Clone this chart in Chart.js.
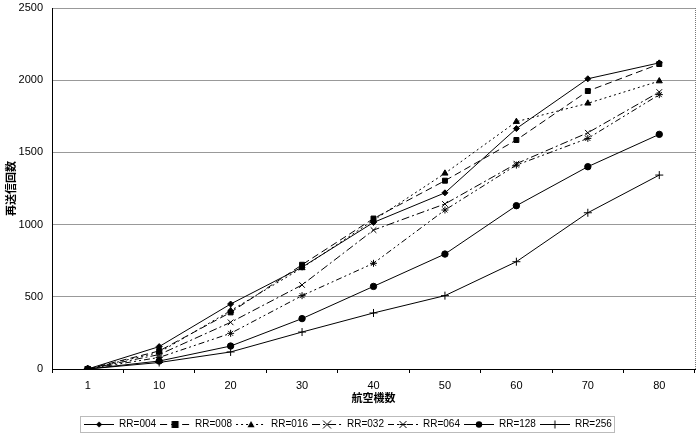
<!DOCTYPE html>
<html>
<head>
<meta charset="utf-8">
<style>
  html, body { margin: 0; padding: 0; background: #fff; }
  #wrap { width: 700px; height: 434px; }
</style>
<script src="https://cdn.jsdelivr.net/npm/chart.js@4.4.1/dist/chart.umd.min.js"></script>
</head>
<body>
<div id="wrap"><canvas id="chart"></canvas></div>
<script>
// data
const categories = ['1', '10', '20', '30', '40', '50', '60', '70', '80'];
const rr004 = [0, 155, 450, 705, 1015, 1220, 1665, 2010, 2120];
const rr008 = [0, 125, 392, 722, 1042, 1304, 1586, 1925, 2112];
const rr016 = [0, 115, 404, 700, 1030, 1355, 1713, 1840, 1994];
const rr032 = [0, 100, 323, 582, 962, 1143, 1422, 1636, 1918];
const rr064 = [0, 80, 247, 508, 732, 1101, 1412, 1597, 1900];
const rr128 = [0, 55, 159, 349, 572, 796, 1131, 1401, 1625];
const rr256 = [0, 45, 118, 256, 388, 508, 743, 1082, 1343];
const seriesNames = ['RR=004', 'RR=008', 'RR=016', 'RR=032', 'RR=064', 'RR=128', 'RR=256'];
const yTicks = [0, 500, 1000, 1500, 2000, 2500];

const seriesData = [rr004, rr008, rr016, rr032, rr064, rr128, rr256];
const looks = [
  {marker: 'rectRot', r: 3, dash: []},
  {marker: 'rect', r: 3.5, dash: [7, 4]},
  {marker: 'triangle', r: 3.5, dash: [2, 3]},
  {marker: 'crossRot', r: 4, dash: [8, 3, 2, 3]},
  {marker: 'star', r: 3.5, dash: [6, 3, 2, 3, 2, 3]},
  {marker: 'circle', r: 3.2, dash: []},
  {marker: 'cross', r: 4, dash: []}
];

const font = "'Liberation Sans', Arial, sans-serif";
const cjk = "'Noto Sans CJK JP', sans-serif";

// small marker drawer for the legend samples
function drawMarker(ctx, type, x, y, r) {
  ctx.beginPath();
  if (type === 'circle') {
    ctx.arc(x, y, r, 0, Math.PI * 2); ctx.fill();
  } else if (type === 'rect') {
    ctx.fillRect(x - r, y - r, r * 2, r * 2);
  } else if (type === 'rectRot') {
    ctx.moveTo(x, y - r); ctx.lineTo(x + r, y); ctx.lineTo(x, y + r); ctx.lineTo(x - r, y);
    ctx.closePath(); ctx.fill();
  } else if (type === 'triangle') {
    ctx.moveTo(x, y - r); ctx.lineTo(x + r, y + r * 0.8); ctx.lineTo(x - r, y + r * 0.8);
    ctx.closePath(); ctx.fill();
  } else if (type === 'cross') {
    ctx.moveTo(x - r, y); ctx.lineTo(x + r, y); ctx.moveTo(x, y - r); ctx.lineTo(x, y + r); ctx.stroke();
  } else if (type === 'crossRot') {
    ctx.moveTo(x - r, y - r); ctx.lineTo(x + r, y + r); ctx.moveTo(x + r, y - r); ctx.lineTo(x - r, y + r); ctx.stroke();
  } else if (type === 'star') {
    ctx.moveTo(x - r, y - r); ctx.lineTo(x + r, y + r); ctx.moveTo(x + r, y - r); ctx.lineTo(x - r, y + r);
    ctx.moveTo(x - r, y); ctx.lineTo(x + r, y); ctx.stroke();
  }
}

function makeSample(look) {
  const c = document.createElement('canvas');
  c.width = 30; c.height = 10;
  const g = c.getContext('2d');
  g.strokeStyle = '#000'; g.fillStyle = '#000'; g.lineWidth = 1;
  g.setLineDash(look.dash);
  g.beginPath(); g.moveTo(0, 5.5); g.lineTo(30, 5.5); g.stroke();
  g.setLineDash([]);
  drawMarker(g, look.marker, 15, 5.5, look.r);
  return c;
}
const samples = looks.map(makeSample);

const datasets = seriesNames.map((name, i) => ({
  label: name,
  data: seriesData[i],
  borderColor: '#000',
  backgroundColor: '#000',
  borderWidth: 1,
  borderDash: looks[i].dash,
  pointStyle: looks[i].marker,
  pointRadius: looks[i].r,
  pointBorderWidth: 1,
  tension: 0
}));

// dotted frame round the legend and right edge of the plot
const framePlugin = {
  id: 'frames',
  afterLayout(chart) {
    // nudge the legend down a little
    chart.legend.top += 5;
    chart.legend.bottom += 5;
  },
  afterDraw(chart) {
    const ctx = chart.ctx;
    const area = chart.chartArea;
    ctx.save();
    ctx.strokeStyle = '#777';
    ctx.lineWidth = 1;
    ctx.setLineDash([1, 1]);
    ctx.beginPath();
    ctx.moveTo(area.right + 0.5, area.top);
    ctx.lineTo(area.right + 0.5, area.bottom);
    ctx.stroke();
    const boxes = chart.legend.legendHitBoxes;
    if (boxes && boxes.length) {
      const l = Math.min(...boxes.map(b => b.left)) - 4;
      const r = Math.max(...boxes.map(b => b.left + b.width)) + 2;
      const t = Math.min(...boxes.map(b => b.top)) - 3;
      const b = Math.max(...boxes.map(b => b.top + b.height)) + 3;
      ctx.strokeRect(Math.round(l) + 0.5, Math.round(t) + 0.5, Math.round(r - l), Math.round(b - t));
    }
    ctx.restore();
  }
};

new Chart(document.getElementById('chart'), {
  type: 'line',
  data: { labels: categories, datasets: datasets },
  options: {
    responsive: true,
    maintainAspectRatio: false,
    animation: false,
    layout: { padding: { top: 8, right: 4, left: 0, bottom: 0 } },
    plugins: {
      tooltip: { enabled: false },
      legend: {
        position: 'bottom',
        labels: {
          usePointStyle: true,
          pointStyleWidth: 30,
          boxHeight: 10,
          padding: 4,
          color: '#000',
          font: { family: font, size: 10 },
          generateLabels(chart) {
            const items = Chart.defaults.plugins.legend.labels.generateLabels(chart);
            items.forEach((it, i) => { it.pointStyle = samples[i]; });
            return items;
          }
        }
      }
    },
    scales: {
      x: {
        offset: true,
        border: { color: '#000', width: 1 },
        grid: { display: true, drawOnChartArea: false, offset: true, tickLength: 4, color: '#000' },
        ticks: { color: '#000', font: { family: font, size: 11 }, padding: 6 },
        title: { display: true, text: '航空機数', color: '#000', font: { family: cjk, size: 11, weight: 'bold' }, padding: { top: 0, bottom: 6 } },
        afterFit(scale) { scale.height = 41; }
      },
      y: {
        min: 0,
        max: 2500,
        border: { color: '#000', width: 1 },
        grid: { color: '#999', drawTicks: false },
        afterBuildTicks(scale) { scale.ticks = yTicks.map(v => ({ value: v })); },
        ticks: { color: '#000', font: { family: font, size: 11 }, padding: 9, callback: v => String(v) },
        title: { display: true, text: '再送信回数', color: '#000', font: { family: cjk, size: 11, weight: 'bold' }, padding: { top: 4, bottom: 4 } },
        afterFit(scale) { scale.width = 52; scale.paddingTop = 0; scale.paddingBottom = 0; }
      }
    }
  },
  plugins: [framePlugin]
});
</script>
</body>
</html>
